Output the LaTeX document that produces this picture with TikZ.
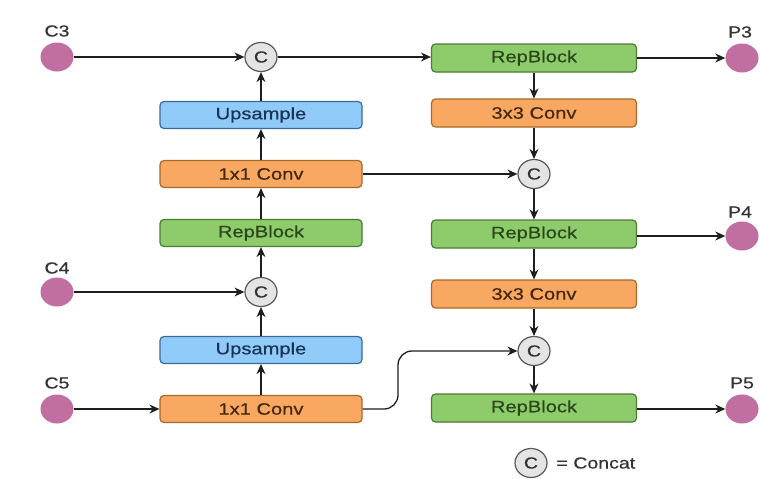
\documentclass[tikz,border=0pt]{standalone}
\usepackage{fontspec}
\setmainfont{Liberation Sans}[FakeStretch=1.22,FakeBold=0.6]
\usetikzlibrary{arrows.meta,shapes.geometric}
\definecolor{gfill}{HTML}{8DCB6B}
\definecolor{gline}{HTML}{4A7C35}
\definecolor{gtext}{HTML}{2A471B}
\definecolor{ofill}{HTML}{F8A860}
\definecolor{oline}{HTML}{A8692A}
\definecolor{otext}{HTML}{45270E}
\definecolor{bfill}{HTML}{90CAF9}
\definecolor{bline}{HTML}{3A6A98}
\definecolor{btext}{HTML}{1C3453}
\definecolor{portc}{HTML}{C06FA0}
\definecolor{catfill}{HTML}{E4E4E4}
\definecolor{wire}{HTML}{1E1E1E}
\tikzset{
  box/.style={draw, line width=1.2pt, rounded corners=4pt, minimum height=27pt,
    inner sep=0pt, font=\fontsize{16.5}{19}\selectfont},
  lbox/.style={box, minimum width=202pt},
  rbox/.style={box, minimum width=205pt, minimum height=28pt},
  rep/.style={fill=gfill, draw=gline, text=gtext},
  conv/.style={fill=ofill, draw=oline, text=otext},
  ups/.style={fill=bfill, draw=bline, text=btext},
  cat/.style={ellipse, draw=black!65, line width=1.2pt, fill=catfill, minimum width=32pt,
    minimum height=29pt, inner sep=0pt, text=black!80, font=\fontsize{16}{19}\selectfont},
  port/.style={ellipse, fill=portc, minimum width=33pt, minimum height=29pt, inner sep=0pt},
  plabel/.style={text=black!80, font=\fontsize{16}{19}\selectfont},
  wirearrow/.style={draw=wire, line width=1.3pt, -{Stealth[length=10pt,width=9pt]}},
}
\begin{document}
\begin{tikzpicture}[x=1pt,y=-1pt]
\fill[white] (0,0) rectangle (760,479);
\useasboundingbox (0,0) rectangle (760,479);

% inputs
\node[port] (c3) at (57,57) {};
\node[plabel] (c3l) at (57,31) {C3};
\node[port] (c4) at (57,292) {};
\node[plabel] (c4l) at (57,268) {C4};
\node[port] (c5) at (57,409) {};
\node[plabel] (c5l) at (57,383) {C5};

% top-down path (left column)
\node[lbox,conv] (conv1) at (261,409) {1x1 Conv};
\node[lbox,ups] (up1) at (261,350) {Upsample};
\node[cat] (cat1) at (261,292) {C};
\node[lbox,rep] (rep1) at (261,233) {RepBlock};
\node[lbox,conv] (conv2) at (261,174) {1x1 Conv};
\node[lbox,ups] (up2) at (261,115) {Upsample};
\node[cat] (cat2) at (261,57) {C};

% bottom-up path (right column)
\node[rbox,rep] (rep2) at (534,58) {RepBlock};
\node[rbox,conv] (conv3) at (534,113) {3x3 Conv};
\node[cat] (cat3) at (534,174) {C};
\node[rbox,rep] (rep3) at (534,234) {RepBlock};
\node[rbox,conv] (conv4) at (534,294) {3x3 Conv};
\node[cat] (cat4) at (534,351) {C};
\node[rbox,rep] (rep4) at (534,408) {RepBlock};

% outputs
\node[port] (p3) at (742,58) {};
\node[plabel] (p3l) at (740,32) {P3};
\node[port] (p4) at (742,236) {};
\node[plabel] (p4l) at (740,212) {P4};
\node[port] (p5) at (742,409) {};
\node[plabel] (p5l) at (742,383) {P5};

% legend
\node[cat] (legc) at (531,463) {C};
\node[plabel, anchor=west] (legt) at (553,463) {= Concat};

% connections
\draw[wirearrow] (c3) -- (cat2);
\draw[wirearrow] (c4) -- (cat1);
\draw[wirearrow] (c5) -- (conv1);
\draw[wirearrow] (conv1) -- (up1);
\draw[wirearrow] (up1) -- (cat1);
\draw[wirearrow] (cat1) -- (rep1);
\draw[wirearrow] (rep1) -- (conv2);
\draw[wirearrow] (conv2) -- (up2);
\draw[wirearrow] (up2) -- (cat2);
\draw[wirearrow] (cat2) -- (cat2 -| rep2.west);
\draw[wirearrow] (rep2) -- (p3);
\draw[wirearrow] (rep2) -- (conv3);
\draw[wirearrow] (conv3) -- (cat3);
\draw[wirearrow] (conv2) -- (cat3);
\draw[wirearrow] (cat3) -- (rep3);
\draw[wirearrow] (rep3.east |- p4) -- (p4);
\draw[wirearrow] (rep3) -- (conv4);
\draw[wirearrow] (conv4) -- (cat4);
\draw[wirearrow, rounded corners=14pt] (conv1.east) -- (398,409) -- (398,351) -- (cat4);
\draw[wirearrow] (cat4) -- (rep4);
\draw[wirearrow] (rep4.east |- p5) -- (p5);
\end{tikzpicture}
\end{document}
